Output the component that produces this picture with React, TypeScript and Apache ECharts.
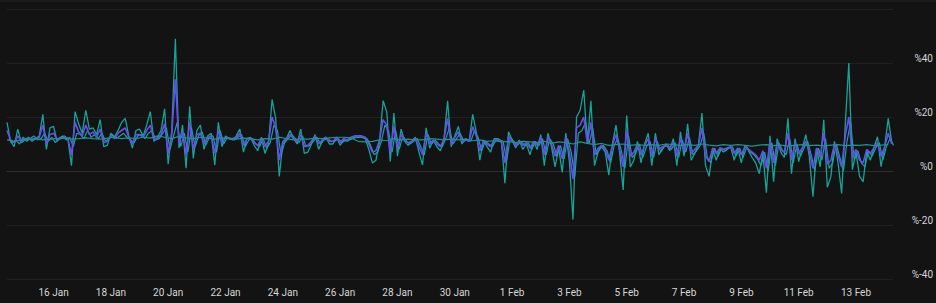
import React, { useEffect, useRef } from 'react';
import * as echarts from 'echarts';

const HOUR = 3600 * 1000;
const START = Date.UTC(2025, 0, 14, 9);
const END = START + 742 * HOUR;
const RAW_STEP_H = 3;
const SMOOTH_STEP_H = 6;

const tickLabels = ['16 Jan', '18 Jan', '20 Jan', '22 Jan', '24 Jan', '26 Jan', '28 Jan', '30 Jan', '1 Feb', '3 Feb', '5 Feb', '7 Feb', '9 Feb', '11 Feb', '13 Feb'];
const tickDates = ['2025-01-16', '2025-01-18', '2025-01-20', '2025-01-22', '2025-01-24', '2025-01-26', '2025-01-28', '2025-01-30', '2025-02-01', '2025-02-03', '2025-02-05', '2025-02-07', '2025-02-09', '2025-02-11', '2025-02-13'];

// 3-hourly values (%), from 14 Jan 09:00
const tealValues = [
  18, 11, 9, 15.5, 10.5, 11.5, 12.5, 11, 12, 13,
  21, 8, 16, 16.5, 11, 12.5, 13, 12, 2, 22,
  17.5, 14, 22.5, 15.5, 16, 13.5, 19, 9, 9.5, 14,
  12.5, 15, 18, 19.5, 13, 8.5, 15, 15.5, 13, 17,
  22, 11, 12.5, 15, 23, 2.5, 15, 49, 8.5, 17,
  1, 24, 4.7, 15, 17, 8, 13, 14, 2.2, 18,
  9, 13, 12, 11.5, 13, 15.5, 7, 12, 12.5, 9.5,
  7.5, 12.5, 6.5, 10, 26.5, 19.5, -2, 10, 12, 15,
  12, 10, 15.5, 6.5, 7, 10, 13.5, 8, 11, 12.5,
  10, 10, 12.5, 9.5, 11.5, 11, 12, 12.5, 12.5, 12.5,
  12, 8, 3, 4, 11, 26, 22, 3.5, 21.5, 5.5,
  15.5, 11, 9.5, 11, 12.5, 7, 2.2, 16, 8.5, 11.5,
  9, 7.5, 12, 26, 9, 13, 16.5, 10, 12, 11,
  21, 14.5, 4, 11.5, 9, 7, 12, 12, 11, -4.5,
  14.5, 11.5, 8.5, 11.5, 8, 10, 6, 11, 8, 13.5,
  2, 14, 9, 1.5, 8.5, -0.5, 14, 3.5, -18, 20,
  22.5, 30, 10, 26, 2, 7, 9, 7, -1.5, 10,
  17, 7, -7, 20.5, 1.5, 4, 11, 3, 10, 14,
  2, 14, 6, 8.5, 10, 7.5, 12, 2, 14.5, 5.5,
  17.5, 4, 6.5, 9.5, 21.5, 2, -2, 8, 4, 8.5,
  7, 8, 9, 4, 8.5, 3, 9.5, 7.5, 5, 3,
  -1, 6.5, -8, 13, -4, 12, 7, 5, 19.5, -1,
  12, 3.5, 8.5, 13.5, 5, -9.5, 8.5, 1.5, 19, -6,
  -2, 11, 3, -8.3, 17, 40, 0.5, 7, -2, -4,
  7.5, 4, 8.5, 12.7, 1.6, 9, 19.5, 10.5,
];

// 3-hourly values (%), from 14 Jan 10:30
const tealBValues = [
  12, 10.5, 11.5, 10, 12.5, 11, 12, 13, 11.5, 12,
  14, 11, 12.5, 10.5, 12, 13, 11.5, 12.5, 9, 14,
  13.5, 12, 15, 12.5, 13.5, 12, 14, 11, 12, 13.5,
  12, 13, 14, 12.5, 11.5, 10.5, 13, 13.5, 12, 14,
  15, 11.5,
  12, 14, 16, 8, 13, 18, 9, 14, 7, 16,
  9, 13, 14.5, 9.5, 12.5, 13, 7, 15, 10, 12.5,
  12, 11.5, 12.5, 13.5, 9, 11.5, 12, 10, 9, 12,
  8.5, 10.5, 17, 15, 6, 10.5, 12, 13.5, 12, 10.5, 13,
  9, 9.5, 11, 12.5, 10, 11.5, 12, 11, 11, 12,
  10.5, 11.5, 11.5, 12, 12.5, 12.5, 12.5, 12, 9.5, 6,
  7, 11, 17, 15, 7, 15, 8, 13, 11, 10,
  11, 12, 9, 6, 13.5, 10, 11.5, 10, 9, 12, 16,
  10, 12, 14, 11, 11.5, 11, 15, 12.5, 7.5, 11,
  10, 9, 11.5, 11.5, 11, 4, 12.5, 11, 9.5, 11,
  9.5, 10.5, 8, 11, 9.5, 12, 6, 12, 10, 5.5,
  9.5, 4.5, 12, 7, -2, 14, 15, 18, 10, 16, 6,
  8.5, 9.5, 7.5, 3, 9.5, 12, 7.5, 1, 13, 5,
  6.5, 10, 5, 9, 11, 5, 11, 7, 9, 9.5,
  8, 10.5, 5, 11.5, 7, 12.5, 6, 7.5, 9.5, 14,
  5, 3, 8.5, 5.5, 8.5, 7.5, 8.5, 9, 5.5, 8.5, 5,
  9, 7, 6, 4.5, 2, 7, 0, 10.5, 2, 10.5,
  7.5, 6, 12, 3, 10, 5.5, 8.5, 11, 6, 0,
  8.5, 4, 12, 1, 3, 10, 5, 0, 11, 18,
  4, 7.5, 3, 1.5, 7.5, 5.5, 8.5, 10.5, 4, 9, 12, 9.5,
];

const purpleValues = [
  15, 11.5, 10.5, 13, 11, 12, 12, 11.5, 12, 12.5,
  17, 10, 13.5, 14, 11.5, 12, 12.5, 12, 6, 18,
  14.5, 13, 17, 13.5, 14.5, 12.5, 15.5, 10.5, 11, 13,
  12, 14, 15, 16, 12.5, 10, 13.5, 13.5, 12.5, 15,
  17, 11.5, 12, 13.5, 17.5, 6.5, 13.5, 34, 10, 14.5,
  6, 18, 8, 13.5, 14, 10, 12.5, 13, 6.5, 15,
  10.5, 12.5, 12, 12, 12.5, 14, 9.5, 12, 12, 10.5,
  9.5, 12, 9, 11, 20, 16, 4, 11, 12, 13.5,
  12, 11, 13.5, 9, 9.5, 11, 13, 10, 11.5, 12.5,
  11, 11, 12.5, 10.5, 12, 11.5, 12.5, 13, 13, 13,
  12.5, 10, 7, 7.5, 11.5, 19, 17, 7, 16.5, 8.5,
  13.5, 11.5, 10.5, 11, 12, 9, 6, 14, 10, 11.5,
  10, 9, 12, 19.5, 10, 12.5, 14.5, 11, 11.5, 11,
  16.5, 13, 7.5, 11, 10, 9, 11.5, 11.5, 11, 3,
  13, 11, 9.5, 11, 9.5, 10.5, 8.5, 11, 9.5, 12.5,
  6, 12.5, 10, 5.5, 9.5, 4.5, 12.5, 7, -3, 16,
  17, 20, 10.5, 18, 6, 8.5, 9.5, 8, 4, 9.5,
  13.5, 8, 1.5, 15, 5.5, 7, 10, 6, 9.5, 12,
  5.5, 12, 8, 9, 9.5, 8.5, 10.5, 5.5, 12, 7.5,
  14, 6.5, 8, 9.5, 16, 5.5, 3.5, 8.5, 6.5, 8.5,
  8, 8.5, 9, 6.5, 8.5, 6, 9, 8, 7, 6,
  4, 7.5, 1, 11, 3, 10.5, 8, 7, 14, 4,
  10.5, 6.5, 8.5, 11, 7, 1, 8.5, 5, 14, 2.5,
  4, 10, 6, 1.5, 13, 20, 5, 8, 4, 3,
  8, 6.5, 8.5, 10.5, 5.5, 9, 14, 10,
];

// 6-hourly smoothed values (%)
const smoothValues = [
  11.5, 11, 11.5, 11.8, 12, 11.5, 11.8, 12, 12.2, 11.8,
  12, 12.3, 12, 11.8, 12.2, 12.5, 12, 12.3, 12, 12.5,
  12.2, 13, 12.5, 12, 12.8, 12.3, 12, 12.5, 12.2, 11.8,
  12.3, 12, 11.8, 12.2, 12, 11.5, 12, 11.8, 12.5, 12,
  11.5, 12, 11.8, 12.2, 12, 12.3, 12.5, 12.5, 12.3, 11,
  10.8, 11, 11.5, 11.2, 12, 11.5, 11.8, 11.5, 11.5, 12,
  11.8, 11.5, 11.8, 11.5, 11.8, 11.2, 11.5, 11, 11.2, 10.8,
  11, 10.5, 11, 10.8, 10.5, 11, 10.2, 10.8, 10.5, 10,
  10.8, 10.2, 9.8, 10.2, 9.5, 9.8, 10, 9.5, 9.8, 9.5,
  9.8, 9.5, 10, 9.8, 9.5, 9.8, 9.5, 10, 9.6, 9.3,
  9.8, 9.5, 9.8, 9.5, 9.2, 9.6, 9.8, 9.4, 9.6, 9.2,
  9.5, 9.8, 9.4, 9.6, 9.3, 9.6, 9.8, 9.4, 9.6, 9.5,
  9.8, 9.4, 9.6, 9.8,
];

const yTicks = [-40, -20, 0, 20, 40, 60];

const toPairs = (vals: number[], stepH: number, offsetH = 0) =>
  vals.map((v, i) => [START + (offsetH + i * stepH) * HOUR, v]);

const TEAL = '#17a397';
const PURPLE = '#664eeb';

export default function App() {
  const ref = useRef<HTMLDivElement>(null);
  useEffect(() => {
    document.body.style.margin = '0';
    if (!ref.current) return;
    const chart = echarts.init(ref.current, null, { renderer: 'svg' });
    const tickValues = tickDates.map((d) => Date.parse(d + 'T00:00:00Z'));
    const font = 'Roboto, "Noto Sans", sans-serif';
    const line = (name: string, data: number[][], color: string, width: number, z: number) => ({
      name,
      type: 'line',
      data,
      showSymbol: false,
      symbol: 'none',
      lineStyle: { color, width },
      itemStyle: { color },
      z,
    });
    chart.setOption({
      animation: false,
      backgroundColor: '#131313',
      grid: { left: 7, right: 43, top: 9, bottom: 24 },
      graphic: [
        { type: 'line', shape: { x1: 0, y1: 1, x2: 936, y2: 1 }, style: { stroke: '#252525', lineWidth: 1 }, silent: true },
      ],
      xAxis: {
        type: 'value',
        min: START,
        max: END,
        scale: true,
        axisLine: { show: true, lineStyle: { color: '#2e2e2e', width: 1 } },
        axisTick: { show: false },
        splitLine: { show: false },
        axisLabel: {
          customValues: tickValues,
          color: '#d6d6d6',
          fontSize: 10,
          fontFamily: font,
          margin: 8,
          formatter: (v: number) => {
            const idx = tickValues.indexOf(v);
            return idx >= 0 ? tickLabels[idx] : '';
          },
        },
      },
      yAxis: {
        type: 'value',
        position: 'right',
        min: yTicks[0],
        max: yTicks[yTicks.length - 1],
        interval: 20,
        axisLine: { show: false },
        axisTick: { show: false },
        splitLine: { lineStyle: { color: '#202020', width: 1 } },
        axisLabel: {
          color: '#d6d6d6',
          fontSize: 10,
          fontFamily: font,
          margin: 40,
          align: 'right',
          verticalAlign: 'bottom',
          formatter: (v: number) => (v >= 60 ? '' : '%' + v),
        },
      },
      series: [
        line('teal B', toPairs(tealBValues, RAW_STEP_H, 1.5), TEAL, 1.2, 1),
        line('teal', toPairs(tealValues, RAW_STEP_H), TEAL, 1.3, 2),
        line('purple', toPairs(purpleValues, RAW_STEP_H), PURPLE, 1.6, 3),
        line('smooth', toPairs(smoothValues, SMOOTH_STEP_H), '#1a968d', 1.2, 4),
      ],
    });
    return () => chart.dispose();
  }, []);
  return <div ref={ref} style={{ position: 'fixed', left: 0, top: 0, width: 936, height: 303 }} />;
}
